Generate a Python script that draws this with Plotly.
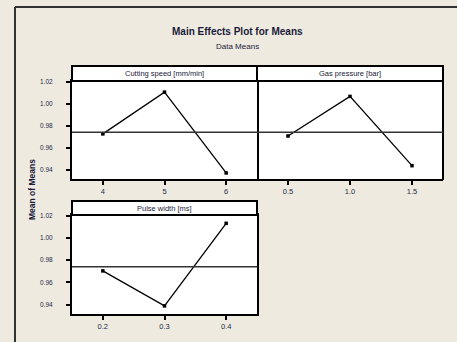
import plotly.graph_objects as go

W, H = 457, 342

# ---- data ----
speed_levels = [4, 5, 6]
speed_means = [0.9725, 1.0105, 0.937]
pressure_levels = [0.5, 1.0, 1.5]
pressure_means = [0.9706, 1.0066, 0.9436]
pulse_levels = [0.2, 0.3, 0.4]
pulse_means = [0.9703, 0.9388, 1.0131]
panel_titles = ["Cutting speed [mm/min]", "Gas pressure [bar]", "Pulse width [ms]"]
y_ticks = [0.94, 0.96, 0.98, 1.00, 1.02]
y_tick_labels = ["0.94", "0.96", "0.98", "1.00", "1.02"]
grand_mean = 0.974

def px_x(p):
    return p / W

def px_y(p):
    return 1 - p / H

BG = "#EEEAE0"
FONT = "Liberation Sans"

fig = go.Figure()

panels = [
    (72, 257, 66, 81, 179, speed_levels, speed_means, [3.5, 6.5], ["4", "5", "6"]),
    (257, 443, 66, 81, 179, pressure_levels, pressure_means, [0.25, 1.75], ["0.5", "1.0", "1.5"]),
    (72, 257, 201, 215, 314, pulse_levels, pulse_means, [0.15, 0.45], ["0.2", "0.3", "0.4"]),
]

layout = dict(
    template="none",
    width=W, height=H,
    margin=dict(l=0, r=0, t=0, b=0, pad=0, autoexpand=False),
    paper_bgcolor=BG, plot_bgcolor="white",
    showlegend=False,
    font=dict(family=FONT, color="black"),
)
shapes = []
annotations = []

for i, (x0, x1, ht, pt, pb, lv, mn, xr, tt) in enumerate(panels):
    n = "" if i == 0 else str(i + 1)
    fig.add_trace(go.Scatter(
        x=lv, y=mn, mode="lines+markers",
        line=dict(color="black", width=1.3),
        marker=dict(symbol="square", size=3.5, color="black"),
        xaxis="x" + n, yaxis="y" + n, hoverinfo="x+y",
    ))
    layout["xaxis" + n] = dict(
        domain=[px_x(x0), px_x(x1)], range=xr, anchor="y" + n,
        tickvals=lv, ticktext=tt, ticks="outside", ticklen=4, tickwidth=1.5,
        tickcolor="black", showgrid=False, zeroline=False, automargin=False,
        showline=True, linecolor="black", linewidth=2, mirror=True,
        tickfont=dict(size=7.5, family=FONT, color="#1a2a4a"),
        fixedrange=True,
    )
    show_y = i != 1
    layout["yaxis" + n] = dict(
        domain=[px_y(pb), px_y(pt)], range=[0.9315, 1.0206], anchor="x" + n,
        tickvals=y_ticks, ticktext=y_tick_labels,
        ticks="outside" if show_y else "", ticklen=4, tickwidth=1.5, tickcolor="black",
        showticklabels=show_y, ticklabelstandoff=12 if show_y else 0,
        showgrid=False, zeroline=False, automargin=False,
        showline=show_y, linecolor="black", linewidth=2, mirror=True,
        tickfont=dict(size=6.5, family=FONT, color="#1a2a4a"),
        fixedrange=True,
    )
    if not show_y:
        shapes.append(dict(type="line", xref="paper", yref="paper",
                           x0=px_x(x1), x1=px_x(x1), y0=px_y(pb + 1), y1=px_y(ht),
                           line=dict(color="black", width=2)))
    shapes.append(dict(type="line", xref="x" + n + " domain", yref="y" + n,
                       x0=0, x1=1, y0=grand_mean, y1=grand_mean,
                       line=dict(color="#333333", width=1.5)))
    shapes.append(dict(type="rect", xref="paper", yref="paper",
                       x0=px_x(x0), x1=px_x(x1), y0=px_y(pt), y1=px_y(ht),
                       fillcolor="white", line=dict(color="black", width=2)))
    annotations.append(dict(text=panel_titles[i], xref="paper", yref="paper",
                            x=px_x((x0 + x1) / 2), y=px_y((ht + pt) / 2),
                            showarrow=False, xanchor="center", yanchor="middle",
                            font=dict(size=7.5, family=FONT, color="#1a1a3a")))

shapes.append(dict(type="line", xref="paper", yref="paper",
                   x0=px_x(15), x1=1, y0=px_y(7), y1=px_y(7),
                   line=dict(color="#333333", width=2)))
shapes.append(dict(type="line", xref="paper", yref="paper",
                   x0=px_x(15), x1=px_x(15), y0=px_y(7), y1=0,
                   line=dict(color="#333333", width=2)))

annotations += [
    dict(text="<b>Main Effects Plot for Means</b>", xref="paper", yref="paper",
         x=px_x(237), y=px_y(31), showarrow=False, xanchor="center", yanchor="middle",
         font=dict(size=10, family=FONT, color="#1a1a3a")),
    dict(text="Data Means", xref="paper", yref="paper",
         x=px_x(237), y=px_y(46), showarrow=False, xanchor="center", yanchor="middle",
         font=dict(size=8, family=FONT, color="#1a1a3a")),
    dict(text="<b>Mean of Means</b>", xref="paper", yref="paper",
         x=px_x(32), y=px_y(190), showarrow=False, xanchor="center", yanchor="middle",
         textangle=-90, font=dict(size=8.5, family=FONT, color="#1a1a3a")),
]

layout["shapes"] = shapes
layout["annotations"] = annotations
fig.update_layout(**layout)
fig.write_html(
    "out.html",
    config={"displayModeBar": False},
    post_script="document.body.style.margin='0';document.body.style.padding='0';",
)
